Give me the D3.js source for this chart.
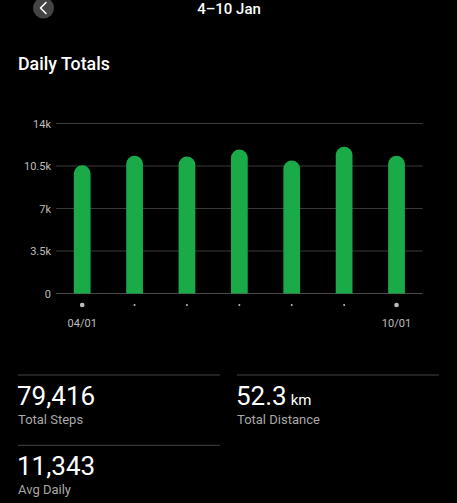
<!DOCTYPE html>
<html><head><meta charset="utf-8">
<script src="https://cdn.jsdelivr.net/npm/d3@7"></script>
<style>html,body{margin:0;padding:0;background:#000;}svg{display:block;font-family:Roboto,"Noto Sans",sans-serif;}</style>
</head><body>
<svg id="c" width="457" height="503"></svg>
<script>
const days = ["04/01","05/01","06/01","07/01","08/01","09/01","10/01"];
const steps = [10565,11340,11280,11860,10950,12080,11341];
const yTicks = [0,3500,7000,10500,14000];
const yTickLabels = ["0","3.5k","7k","10.5k","14k"];
const xLabelShown = ["04/01","10/01"];
const stats = [
  {value:"79,416", unit:"", label:"Total Steps"},
  {value:"52.3", unit:"km", label:"Total Distance"},
  {value:"11,343", unit:"", label:"Avg Daily"}
];

const svg = d3.select("#c");
svg.append("rect").attr("width",457).attr("height",503).attr("fill","#000");

// header
svg.append("circle").attr("cx",43.5).attr("cy",8).attr("r",10.5).attr("fill","#444");
svg.append("path").attr("d","M46,2.5 L40.5,8 L46,13.5").attr("fill","none").attr("stroke","#fff").attr("stroke-width",1.6).attr("stroke-linecap","round").attr("stroke-linejoin","round");
svg.append("text").attr("x",229).attr("y",13.5).attr("text-anchor","middle").attr("fill","#fff").attr("font-size",15).attr("font-weight",500).text("4–10 Jan");
svg.append("text").attr("x",18).attr("y",69.5).attr("fill","#fff").attr("font-size",17.8).attr("font-weight",500).text("Daily Totals");

const x = d3.scaleBand().domain(days).range([56,422.7]).paddingInner(0.68).paddingOuter(0.34);
const y = d3.scaleLinear().domain([0,14000]).range([293.5,123.5]);

const yAxis = d3.axisLeft(y).tickValues(yTicks).tickFormat((d,i)=>yTickLabels[i]).tickSize(0).tickPadding(5);
const gy = svg.append("g").attr("transform","translate(56,0)").call(yAxis);
gy.select(".domain").remove();
gy.selectAll("text").attr("fill","#bdbdbd").attr("font-size",11).attr("font-family","Roboto, sans-serif");

svg.append("g").selectAll("line").data(yTicks).join("line")
  .attr("x1",56).attr("x2",422.7).attr("y1",d=>y(d)).attr("y2",d=>y(d))
  .attr("stroke",d=>d===0?"#4a4a4a":"#3a3a3a").attr("stroke-width",1);

const bw = x.bandwidth(), r = bw/2;
svg.append("g").selectAll("path").data(steps).join("path")
  .attr("fill","#1aab48")
  .attr("d",(d,i)=>{
    const x0 = x(days[i]), top = y(d), bot = y(0);
    return `M${x0},${bot} L${x0},${top+r} A${r},${r} 0 0 1 ${x0+bw},${top+r} L${x0+bw},${bot} Z`;
  });

// dots
svg.append("g").selectAll("circle").data(days).join("circle")
  .attr("cx",d=>x(d)+bw/2).attr("cy",305)
  .attr("r",d=>xLabelShown.includes(d)?2.3:1)
  .attr("fill","#bdbdbd");

svg.append("g").selectAll("text").data(xLabelShown).join("text")
  .attr("x",d=>x(d)+bw/2).attr("y",327).attr("text-anchor","middle")
  .attr("fill","#bdbdbd").attr("font-size",11).text(d=>d);

// stats
const pos = [{x:18,y:375},{x:237,y:375},{x:18,y:445.3}];
stats.forEach((s,i)=>{
  const p = pos[i];
  svg.append("line").attr("x1",p.x).attr("x2",p.x+202).attr("y1",p.y).attr("y2",p.y).attr("stroke","#444").attr("stroke-width",1);
  const t = svg.append("text").attr("x",p.x-1).attr("y",p.y+30).attr("fill","#fff").attr("font-size",26).attr("font-weight",400);
  t.append("tspan").text(s.value);
  if(s.unit) t.append("tspan").attr("font-size",15).attr("dx",4).text(s.unit);
  svg.append("text").attr("x",p.x).attr("y",p.y+49).attr("fill","#a8a8a8").attr("font-size",13).text(s.label);
});
</script>
</body></html>
